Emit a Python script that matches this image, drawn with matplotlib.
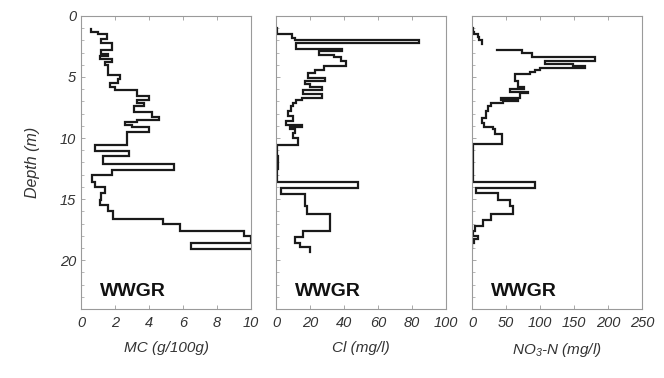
import numpy as np
import matplotlib
matplotlib.use('Agg')
import matplotlib.pyplot as plt
from matplotlib.ticker import MultipleLocator

plt.rcParams['font.family'] = ['Liberation Sans', 'DejaVu Sans']
plt.rcParams['mathtext.fontset'] = 'custom'
plt.rcParams['mathtext.rm'] = 'Liberation Sans:italic'
plt.rcParams['mathtext.it'] = 'Liberation Sans:italic'

# depth interval boundaries (m) and constant value in each interval
mc_depth = [1.1, 1.3, 1.5, 1.9, 2.2, 2.8, 3.1, 3.3, 3.5, 3.8, 4.0, 4.8, 5.2, 5.5, 5.8,
            6.05, 6.6, 6.9, 7.1, 7.4, 7.9, 8.3, 8.5, 8.7, 8.9, 9.1, 9.5, 10.6, 11.1,
            11.5, 12.1, 12.6, 13.0, 13.6, 14.0, 14.5, 15.1, 15.5, 16.0, 16.6, 17.0,
            17.6, 18.0, 18.6, 19.1, 19.1]
mc_vals = [0.6, 1.0, 1.5, 1.2, 1.8, 1.2, 1.6, 1.1, 1.8, 1.4, 1.6, 2.3, 2.2, 1.7, 2.0,
           3.3, 4.0, 3.3, 3.7, 3.1, 4.2, 4.6, 3.3, 2.6, 3.0, 4.0, 2.7, 0.8, 2.8, 1.3,
           5.5, 1.8, 0.65, 0.8, 1.4, 1.2, 1.1, 1.6, 1.9, 4.8, 5.8, 9.6, 10.0, 6.5, 10.0]

cl_depth = [1.0, 1.5, 1.85, 1.97, 2.2, 2.7, 2.9, 3.2, 3.4, 3.7, 4.1, 4.4, 4.7, 5.1,
            5.35, 5.6, 5.8, 6.1, 6.4, 6.7, 6.85, 7.1, 7.4, 7.8, 8.2, 8.6, 8.9, 9.1,
            9.3, 9.6, 10.0, 10.6, 11.5, 12.5, 13.6, 14.1, 14.6, 15.6, 16.2, 17.6,
            18.1, 18.6, 18.9, 19.3]
cl_vals = [0.5, 9.5, 11, 84, 12, 39, 25, 34, 38, 41, 28, 23, 19, 29, 17, 20, 27, 16,
           27, 15, 12, 10, 9, 7, 10, 6, 15, 8, 11, 10, 13, 0.5, 1, 0.5, 48, 3, 17,
           18, 32, 16, 11, 14, 20]

no3_depth = [1.0, 1.3, 1.5, 1.7, 1.95, 2.3, 2.8, 2.8, 3.05, 3.33, 3.7, 3.9, 4.1, 4.3,
             4.45, 4.6, 4.75, 5.3, 5.8, 6.0, 6.2, 6.35, 6.7, 6.85, 7.0, 7.15, 7.4,
             7.8, 8.4, 8.8, 9.1, 9.3, 9.7, 10.5, 11.5, 12.3, 13.6, 14.1, 14.5, 15.1,
             15.6, 16.2, 16.7, 17.2, 17.6, 18.0, 18.3, 18.6, 19.0]
no3_vals = [1, 3, 8, 10, 15, np.nan, 36, 73, 88, 181, 107, 149, 166, 100, 92, 85, 63,
            68, 76, 55, 82, 70, 42, 67, 45, 28, 23, 20, 14, 17, 30, 34, 44, 1, 2, 1,
            93, 5, 38, 55, 60, 28, 16, 4, 1, 8, 3, 0.5]

xlabels = ['MC (g/100g)', 'Cl (mg/l)', r'NO$_3$-N (mg/l)']
xlims = [(0, 10), (0, 100), (0, 250)]
xsteps = [2, 20, 50]
site = 'WWGR'


def step_path(depth, vals):
    v = np.repeat(vals, 2)
    d = np.empty(2 * len(vals))
    d[0::2] = depth[:-1]
    d[1::2] = depth[1:]
    return v, d


fig = plt.figure(figsize=(6.64, 3.78), dpi=100)
lefts = [0.122, 0.4157, 0.711]
profiles = [(mc_depth, mc_vals), (cl_depth, cl_vals), (no3_depth, no3_vals)]
grey = '#9a9a9a'
txt = '#333333'

for i, (depth, vals) in enumerate(profiles):
    ax = fig.add_axes([lefts[i], 0.1825, 0.256, 0.7755])
    x, y = step_path(np.array(depth, float), np.array(vals, float))
    ax.plot(x, y, color='#1a1a1a', lw=1.6, solid_joinstyle='miter')
    ax.set_xlim(*xlims[i])
    ax.set_ylim(24, 0)
    ax.xaxis.set_major_locator(MultipleLocator(xsteps[i]))
    ax.yaxis.set_major_locator(MultipleLocator(5))
    ax.yaxis.set_minor_locator(MultipleLocator(1))
    ax.tick_params(direction='in', color=grey, labelcolor=txt, labelsize=10.5,
                   top=True, right=False, width=0.6, length=3)
    ax.tick_params(axis='y', which='minor', direction='in', color=grey, length=2, width=0.5)
    ax.tick_params(axis='x', pad=5)
    for s in ax.spines.values():
        s.set_color(grey)
        s.set_linewidth(0.8)
    for lab in ax.get_xticklabels() + ax.get_yticklabels():
        lab.set_fontstyle('italic')
    ax.set_xlabel(xlabels[i], fontsize=11, style='italic', color=txt, labelpad=8)
    if i == 0:
        ax.set_ylabel('Depth (m)', fontsize=11.5, style='italic', color=txt, labelpad=14)
    else:
        ax.set_yticklabels([])
    ax.text(0.11, 0.045, site, transform=ax.transAxes, fontsize=14, fontweight='bold',
            color='#111111')

fig.savefig('out.png', dpi=100)
